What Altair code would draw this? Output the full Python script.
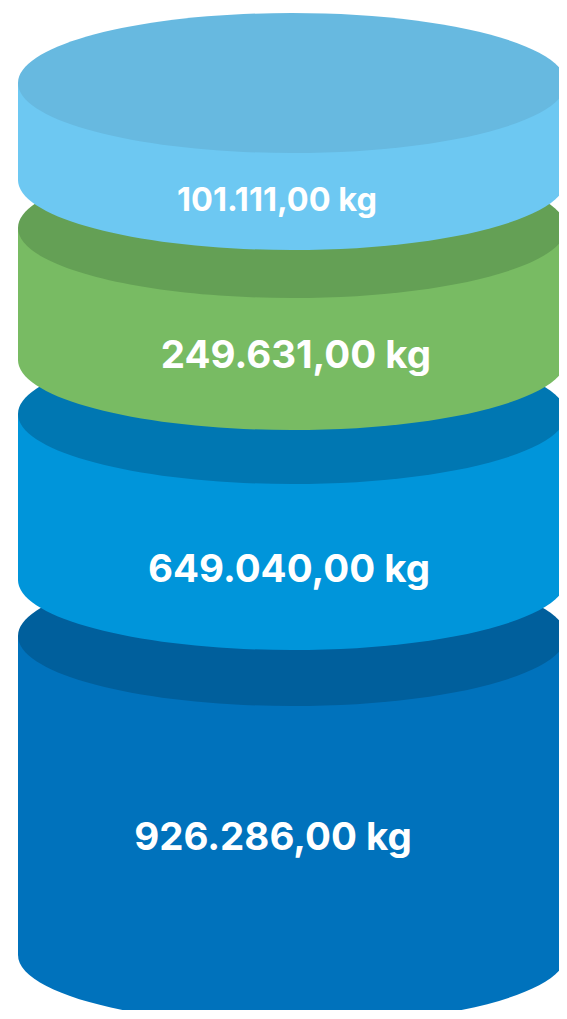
import altair as alt
import pandas as pd

# ---------------- data ----------------
layers = ["Schicht 1", "Schicht 2", "Schicht 3", "Schicht 4"]          # top -> bottom
values_kg = [101111.00, 249631.00, 649040.00, 926286.00]
side_colors = ["#6DC8F2", "#78BB63", "#0095DA", "#0072BC"]
top_colors = ["#67B9E0", "#64A055", "#0077B2", "#005F9C"]

# ---------------- layout (chart units) ----------------
W, H = 551, 1002
CX, RX, RY = 284, 274, 70
layer_top = [75, 220, 406, 628]        # centre of each top face
layer_bottom = [172, 352, 572, 947]    # centre of each bottom curve
label_y = [193, 348, 562, 830]
label_dx = [-15, 4, -3, -19]
label_size = [32.5, 38.5, 38.5, 38.5]


def fmt_de(v):
    s = f"{v:,.2f}".replace(",", "X").replace(".", ",").replace("X", ".")
    return s + " kg"


df = pd.DataFrame({
    "layer": layers,
    "value": values_kg,
    "label": [fmt_de(v) for v in values_kg],
    "top": layer_top,
    "bottom": layer_bottom,
    "ly": label_y,
    "lx": [CX + d for d in label_dx],
    "fs": label_size,
})
df["cx"] = CX
df["left"] = CX - RX
df["right"] = CX + RX

ELLIPSE = f"M-1,0A1,{RY / RX:.4f} 0 1,0 1,0A1,{RY / RX:.4f} 0 1,0 -1,0Z"
SIZE = (2 * RX) ** 2

xs = alt.Scale(domain=[0, W], nice=False, zero=False)
ys = alt.Scale(domain=[0, H], nice=False, zero=False, reverse=True)
side_scale = alt.Scale(domain=layers, range=side_colors)
top_scale = alt.Scale(domain=layers, range=top_colors)

base = alt.Chart(df)
parts = []
for i in reversed(range(len(layers))):
    sub = base.transform_filter(alt.datum.layer == layers[i])
    bottom_ell = sub.mark_point(shape=ELLIPSE, size=SIZE, filled=True, opacity=1, strokeWidth=0).encode(
        x=alt.X("cx:Q", scale=xs, axis=None),
        y=alt.Y("bottom:Q", scale=ys, axis=None),
        color=alt.Color("layer:N", scale=side_scale, legend=None),
    )
    side = sub.mark_rect(strokeWidth=0).encode(
        x=alt.X("left:Q", scale=xs, axis=None),
        x2="right:Q",
        y=alt.Y("top:Q", scale=ys, axis=None),
        y2="bottom:Q",
        color=alt.Color("layer:N", scale=side_scale, legend=None),
    )
    top_ell = sub.mark_point(shape=ELLIPSE, size=SIZE, filled=True, opacity=1, strokeWidth=0).encode(
        x=alt.X("cx:Q", scale=xs, axis=None),
        y=alt.Y("top:Q", scale=ys, axis=None),
        fill=alt.Fill("layer:N", scale=top_scale, legend=None),
    )
    parts += [bottom_ell, side, top_ell]

labels = base.mark_text(font="Inter", fontWeight="bold", color="white", align="center", baseline="middle").encode(
    x=alt.X("lx:Q", scale=xs, axis=None),
    y=alt.Y("ly:Q", scale=ys, axis=None),
    text="label:N",
    size=alt.Size("fs:Q", scale=None, legend=None),
)
parts.append(labels)

chart = alt.layer(*parts).properties(
    width=W, height=H, autosize="none", padding=0, background="white"
).configure_view(stroke=None)

chart.save("out.html", embed_options={"renderer": "svg", "actions": False})
